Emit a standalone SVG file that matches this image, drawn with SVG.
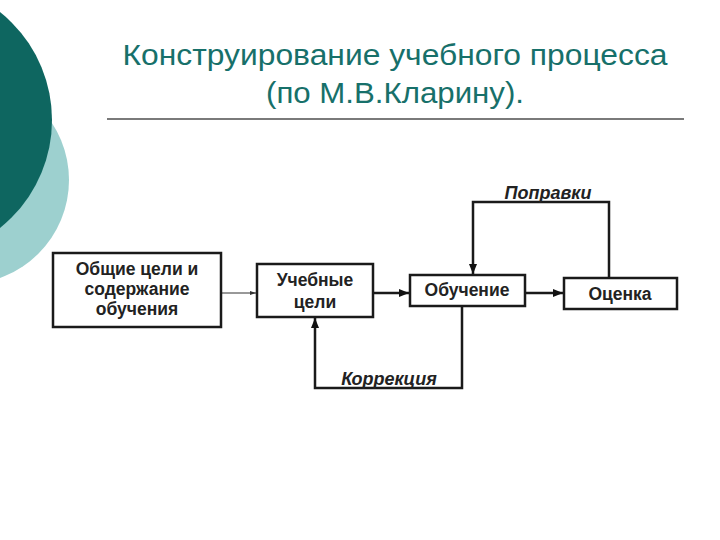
<svg xmlns="http://www.w3.org/2000/svg" width="720" height="540" viewBox="0 0 720 540">
<style>
.box{fill:#fff;stroke:#1a1a1a;stroke-width:2.5}
.t{font-family:"Liberation Sans",Arial,sans-serif;font-weight:bold;font-size:17.5px;fill:#222;text-anchor:middle}
.lbl{font-family:"Liberation Sans",Arial,sans-serif;font-weight:bold;font-style:italic;font-size:18px;fill:#222;text-anchor:middle}
.ttl{font-family:"Liberation Sans",Arial,sans-serif;font-size:30px;fill:#17706a;text-anchor:middle}
.c{fill:none;stroke:#1a1a1a;stroke-width:2.5}
</style>
<defs>
<marker id="ah" markerWidth="10" markerHeight="8" refX="10" refY="4" orient="auto" markerUnits="userSpaceOnUse">
<path d="M0,0 L10,4 L0,8 z" fill="#111"/>
</marker>
<marker id="ahs" markerWidth="6" markerHeight="4" refX="6" refY="2" orient="auto" markerUnits="userSpaceOnUse">
<path d="M0,0 L6,2 L0,4 z" fill="#333"/>
</marker>
</defs>
<rect width="720" height="540" fill="#fff"/>
<g id="decor">
<circle cx="-35" cy="180" r="104" fill="#9dd0cf"/>
<circle cx="-86" cy="120" r="138" fill="#0e6660"/>
</g>
<g id="title">
<text class="ttl" x="395" y="65" textLength="545" lengthAdjust="spacingAndGlyphs">Конструирование учебного процесса</text>
<text class="ttl" x="395" y="103" textLength="258" lengthAdjust="spacingAndGlyphs">(по М.В.Кларину).</text>
<line x1="107" y1="119" x2="684" y2="119" stroke="#7a7a7a" stroke-width="2"/>
</g>
<g id="connectors">
<line x1="221" y1="293" x2="256" y2="293" stroke="#333" stroke-width="1" marker-end="url(#ahs)"/>
<line class="c" x1="373" y1="293" x2="409" y2="293" marker-end="url(#ah)"/>
<line class="c" x1="525" y1="293" x2="563" y2="293" marker-end="url(#ah)"/>
<polyline class="c" points="609,278 609,202 473,202 473,274" marker-end="url(#ah)"/>
<polyline class="c" points="462,306 462,388 315,388 315,318" marker-end="url(#ah)"/>
<text class="lbl" x="548" y="199">Поправки</text>
<text class="lbl" x="389" y="385">Коррекция</text>
</g>
<g id="n1">
<rect class="box" x="53" y="253" width="168" height="74"/>
<text class="t" x="137" y="275">Общие цели и</text>
<text class="t" x="137" y="295">содержание</text>
<text class="t" x="137" y="315">обучения</text>
</g>
<g id="n2">
<rect class="box" x="257" y="264" width="116" height="53"/>
<text class="t" x="315" y="286">Учебные</text>
<text class="t" x="315" y="308">цели</text>
</g>
<g id="n3">
<rect class="box" x="410" y="275" width="115" height="31"/>
<text class="t" x="467" y="296">Обучение</text>
</g>
<g id="n4">
<rect class="box" x="564" y="278" width="113" height="31"/>
<text class="t" x="620" y="300">Оценка</text>
</g>
</svg>
